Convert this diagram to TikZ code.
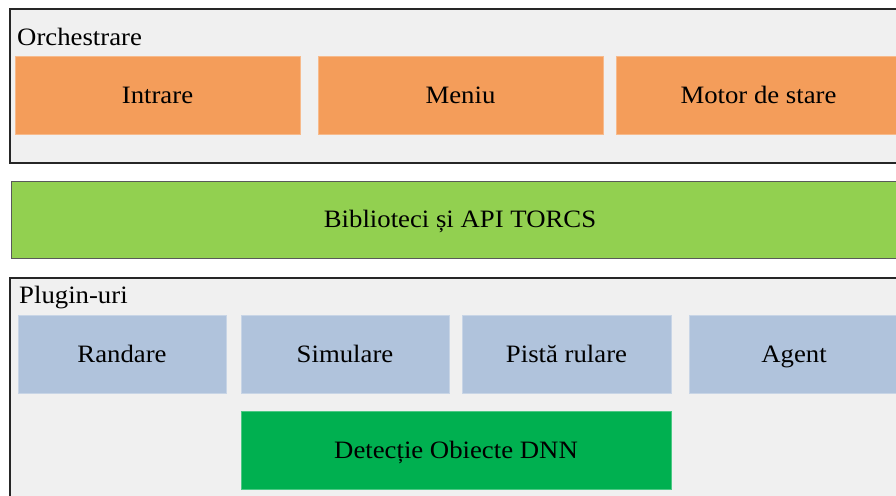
\documentclass[tikz,border=0pt]{standalone}
\usepackage{fontspec}
\setmainfont[FakeStretch=1.07]{Liberation Serif}
\definecolor{layerbg}{HTML}{F0F0F0}
\definecolor{orangebox}{HTML}{F49D5A}
\definecolor{limebar}{HTML}{92D050}
\definecolor{bluebox}{HTML}{B0C3DC}
\definecolor{dnngreen}{HTML}{00B050}
\begin{document}
\begin{tikzpicture}[x=1pt,y=-1pt,
  layer/.style={draw=black!85, line width=1.8pt, fill=layerbg, anchor=north west, inner sep=0pt},
  block/.style={inner sep=0pt, minimum height=78pt, text height=17pt, text depth=1pt,
                font=\fontsize{25}{30}\selectfont, text=black},
  orangeblock/.style={block, fill=orangebox, draw=orangebox!70!white, line width=0.6pt, minimum width=285pt},
  blueblock/.style={block, fill=bluebox, draw=bluebox!70!white, line width=0.6pt},
  caption/.style={anchor=base west, inner sep=0pt, font=\fontsize{25}{30}\selectfont, text=black}
]
\useasboundingbox (0,0) rectangle (896,495);
\clip (0,0) rectangle (896,495);

% Orchestration layer
\node[layer, minimum width=900pt, minimum height=154pt] (orch) at (9,8) {};
\node[caption] (orchlabel) at (17,46) {Orchestrare};
\node[orangeblock] (intrare) at (157.5,95) {Intrare};
\node[orangeblock] (meniu) at (460.5,95) {Meniu};
\node[orangeblock] (motor) at (758.5,95) {Motor de stare};

% Libraries and API
\node[block, anchor=north west, fill=limebar, draw=black!65, line width=1.3pt,
      minimum width=898pt, minimum height=77pt] (api) at (11,181) {};
\node[block] (apitext) at (460,219.5) {Biblioteci și API TORCS};

% Plugins layer
\node[layer, minimum width=900pt, minimum height=300pt] (plugins) at (9,277) {};
\node[caption] (pluginlabel) at (19,303) {Plugin-uri};
\node[blueblock, minimum width=208pt] (randare) at (122,354) {Randare};
\node[blueblock, minimum width=208pt] (simulare) at (345,354) {Simulare};
\node[blueblock, minimum width=209pt] (pista) at (566.5,354) {Pistă rulare};
\node[blueblock, minimum width=210pt] (agent) at (794,354) {Agent};
\node[block, fill=dnngreen, draw=dnngreen!70!white, line width=0.6pt,
      minimum width=430pt] (dnn) at (456,450) {Detecție Obiecte DNN};
\end{tikzpicture}
\end{document}
